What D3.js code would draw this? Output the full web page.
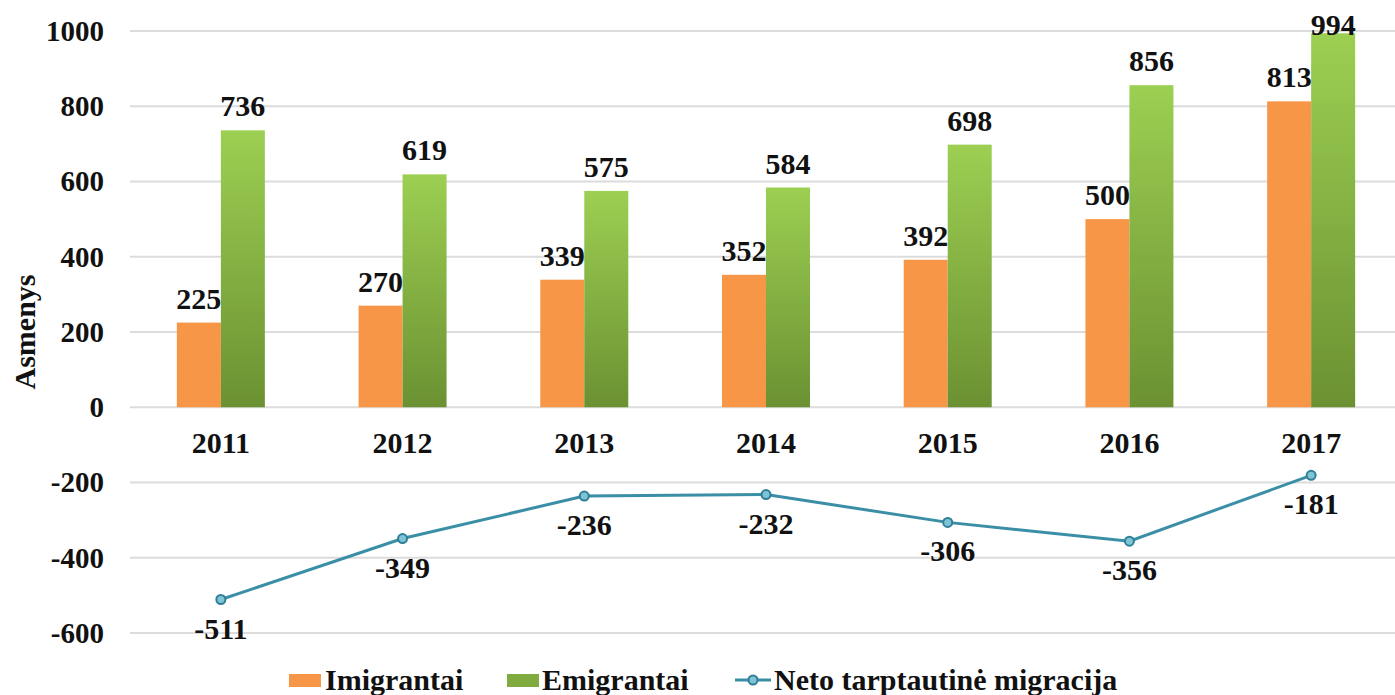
<!DOCTYPE html>
<html>
<head>
<meta charset="utf-8">
<script src="https://cdn.jsdelivr.net/npm/d3@7"></script>
<style>
  body { margin: 0; background: #fff; }
  text { font-family: "Liberation Serif", "Times New Roman", serif; font-weight: bold; }
</style>
</head>
<body>
<div id="chart"></div>
<script>
// data
const years = ["2011", "2012", "2013", "2014", "2015", "2016", "2017"];
const imigrantai = [225, 270, 339, 352, 392, 500, 813];
const emigrantai = [736, 619, 575, 584, 698, 856, 994];
const neto = [-511, -349, -236, -232, -306, -356, -181];
const yTicks = [-600, -400, -200, 0, 200, 400, 600, 800, 1000];

const W = 1395, H = 695;
const svg = d3.select("#chart").append("svg")
  .attr("width", W).attr("height", H);

// green gradient for the emigrant bars
const grad = svg.append("defs").append("linearGradient")
  .attr("id", "greenGrad").attr("x1", 0).attr("y1", 0).attr("x2", 0).attr("y2", 1);
grad.append("stop").attr("offset", "0%").attr("stop-color", "#9ccf52");
grad.append("stop").attr("offset", "100%").attr("stop-color", "#6b9132");

const x = d3.scaleBand().domain(years).range([130, 1402]);
const y = d3.scaleLinear().domain([-600, 1000]).range([633, 31]);
const cx = d => x(d) + x.bandwidth() / 2;

// gridlines
svg.append("g")
  .selectAll("line")
  .data(yTicks)
  .join("line")
  .attr("x1", 130).attr("x2", W)
  .attr("y1", d => y(d)).attr("y2", d => y(d))
  .attr("stroke", "#dcdcdc").attr("stroke-width", 2);

// y axis labels
const yAxis = svg.append("g")
  .attr("transform", "translate(104,0)")
  .call(d3.axisLeft(y).tickValues(yTicks).tickSize(0).tickPadding(0).tickFormat(d => String(d)));
yAxis.select(".domain").remove();
yAxis.selectAll("text")
  .style("font-size", "29px")
  .style("font-family", "Liberation Serif, serif")
  .style("font-weight", "bold")
  .attr("fill", "#111");

svg.append("text")
  .attr("transform", "translate(35,332) rotate(-90)")
  .attr("text-anchor", "middle")
  .style("font-size", "30px")
  .attr("fill", "#111")
  .text("Asmenys");

const bw = 44;

// imigrantai bars
svg.append("g").selectAll("rect")
  .data(imigrantai)
  .join("rect")
  .attr("x", (d, i) => cx(years[i]) - bw)
  .attr("y", d => y(d))
  .attr("width", bw)
  .attr("height", d => y(0) - y(d))
  .attr("fill", "#f79646");

// emigrantai bars
svg.append("g").selectAll("rect")
  .data(emigrantai)
  .join("rect")
  .attr("x", (d, i) => cx(years[i]))
  .attr("y", d => y(d))
  .attr("width", bw)
  .attr("height", d => y(0) - y(d))
  .attr("fill", "url(#greenGrad)");

// bar labels
svg.append("g").selectAll("text")
  .data(imigrantai)
  .join("text")
  .attr("x", (d, i) => cx(years[i]) - bw / 2)
  .attr("y", d => y(d) - 14)
  .attr("text-anchor", "middle")
  .style("font-size", "30px")
  .attr("fill", "#111")
  .text(d => d);

svg.append("g").selectAll("text")
  .data(emigrantai)
  .join("text")
  .attr("x", (d, i) => cx(years[i]) + bw / 2)
  .attr("y", d => Math.max(y(d) - 14, 35))
  .attr("text-anchor", "middle")
  .style("font-size", "30px")
  .attr("fill", "#111")
  .text(d => d);

// year labels
svg.append("g").selectAll("text")
  .data(years)
  .join("text")
  .attr("x", d => cx(d))
  .attr("y", y(0) + 46)
  .attr("text-anchor", "middle")
  .style("font-size", "30px")
  .attr("fill", "#111")
  .text(d => d);

// net migration line
const line = d3.line()
  .x((d, i) => cx(years[i]))
  .y(d => y(d));
svg.append("path")
  .datum(neto)
  .attr("d", line)
  .attr("fill", "none")
  .attr("stroke", "#3a8ea6")
  .attr("stroke-width", 3);

svg.append("g").selectAll("circle")
  .data(neto)
  .join("circle")
  .attr("cx", (d, i) => cx(years[i]))
  .attr("cy", d => y(d))
  .attr("r", 4.5)
  .attr("fill", "#7fc4d6")
  .attr("stroke", "#2f7f96")
  .attr("stroke-width", 2);

svg.append("g").selectAll("text")
  .data(neto)
  .join("text")
  .attr("x", (d, i) => cx(years[i]))
  .attr("y", d => y(d) + 39)
  .attr("text-anchor", "middle")
  .style("font-size", "30px")
  .attr("fill", "#111")
  .text(d => d);

// legend
const leg = svg.append("g").attr("transform", "translate(0,680)");
leg.append("rect").attr("x", 289).attr("y", -6).attr("width", 32).attr("height", 13).attr("fill", "#f79646");
leg.append("text").attr("x", 325).attr("y", 10).style("font-size", "30px").attr("fill", "#111").text("Imigrantai");
leg.append("rect").attr("x", 507).attr("y", -6).attr("width", 32).attr("height", 13).attr("fill", "#80ab3e");
leg.append("text").attr("x", 542).attr("y", 10).style("font-size", "30px").attr("fill", "#111").text("Emigrantai");
leg.append("line").attr("x1", 735).attr("x2", 771).attr("y1", 0).attr("y2", 0)
  .attr("stroke", "#3a8ea6").attr("stroke-width", 3);
leg.append("circle").attr("cx", 753).attr("cy", 0).attr("r", 4.5)
  .attr("fill", "#7fc4d6").attr("stroke", "#2f7f96").attr("stroke-width", 2);
leg.append("text").attr("x", 774).attr("y", 10).style("font-size", "30px").attr("fill", "#111").text("Neto tarptautinė migracija");
</script>
</body>
</html>
